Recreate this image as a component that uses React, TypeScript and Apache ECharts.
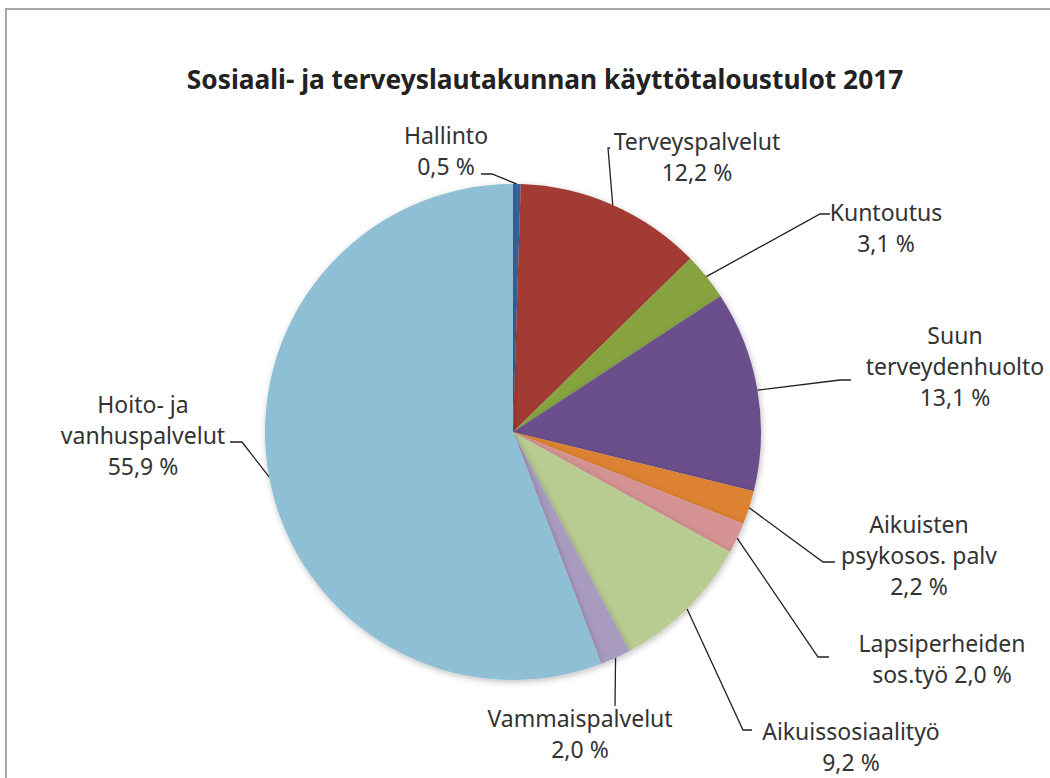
import React, { useEffect, useRef } from "react";
import * as echarts from "echarts";

const TITLE = "Sosiaali- ja terveyslautakunnan käyttötaloustulot 2017";

const categories = [
  "Hallinto",
  "Terveyspalvelut",
  "Kuntoutus",
  "Suun terveydenhuolto",
  "Aikuisten psykosos. palv",
  "Lapsiperheiden sos.työ",
  "Aikuissosiaalityö",
  "Vammaispalvelut",
  "Hoito- ja vanhuspalvelut",
];

const values = [0.5, 12.2, 3.1, 13.1, 2.2, 2.0, 9.2, 2.0, 55.9];

const labelNames = [
  "Hallinto",
  "Terveyspalvelut",
  "Kuntoutus",
  "Suun\nterveydenhuolto",
  "Aikuisten\npsykosos. palv",
  "Lapsiperheiden\nsos.työ",
  "Aikuissosiaalityö",
  "Vammaispalvelut",
  "Hoito- ja\nvanhuspalvelut",
];

const labelJoin = ["\n", "\n", "\n", "\n", "\n", " ", "\n", "\n", "\n"];

const colors = [
  "#3a6aa6",
  "#a33a35",
  "#86a33f",
  "#6a4f8c",
  "#dd8232",
  "#d49292",
  "#b8cc92",
  "#a99bc0",
  "#8ebfd4",
];

// label layout: [centerX, centerY, elbowX, elbowY, endX, endY]
const labelPlacement = [
  [446, 150, 492, 174, 481, 174],
  [697, 156, 608, 148, 610, 148],
  [886, 227, 820, 214, 830, 214],
  [955, 366, 840, 380, 851, 380],
  [919, 555, 823, 562, 835, 562],
  [942, 658, 818, 657, 829, 657],
  [851, 746, 743, 730, 752, 730],
  [580, 733, 615, 706, 615, 706],
  [143, 435, 242, 442, 230, 442],
];

const fmt = (v: number) => v.toFixed(1).replace(".", ",") + " %";

export default function App() {
  const ref = useRef<HTMLDivElement>(null);
  useEffect(() => {
    if (!ref.current) return;
    const chart = echarts.init(ref.current, null, { renderer: "svg" });
    chart.setOption({
      animation: false,
      backgroundColor: "#ffffff",
      title: {
        text: TITLE,
        left: 540,
        top: 61,
        textAlign: "center",
        textStyle: {
          fontFamily: "Noto Sans",
          fontWeight: "bold",
          fontSize: 26.3,
          color: "#222222",
        },
      },
      graphic: [
        {
          type: "rect",
          shape: { x: 6, y: 9, width: 1080, height: 800 },
          style: { fill: "none", stroke: "#a6a6a6", lineWidth: 2 },
          silent: true,
        },
      ],
      series: [
        {
          type: "pie",
          center: [513, 432],
          radius: 248,
          startAngle: 90,
          clockwise: true,
          avoidLabelOverlap: false,
          data: categories.map((c, i) => ({
            name: c,
            value: values[i],
            itemStyle: { color: colors[i] },
          })),
          itemStyle: {
            borderWidth: 0,
            shadowBlur: 6,
            shadowColor: "rgba(0,0,0,0.25)",
            shadowOffsetX: 1,
            shadowOffsetY: 2,
          },
          label: {
            show: true,
            position: "outside",
            fontFamily: "Noto Sans",
            fontSize: 23,
            lineHeight: 31,
            color: "#333333",
            align: "center",
            formatter: (p: any) =>
              labelNames[p.dataIndex] + labelJoin[p.dataIndex] + fmt(values[p.dataIndex]),
          },
          labelLine: {
            show: true,
            length: 20,
            length2: 10,
            lineStyle: { color: "#222222", width: 1.3 },
          },
          labelLayout: (params: any) => {
            const pl = labelPlacement[params.dataIndex];
            const start = params.labelLinePoints ? params.labelLinePoints[0] : [pl[2], pl[3]];
            return {
              x: pl[0],
              y: pl[1],
              align: "center",
              verticalAlign: "middle",
              labelLinePoints: [start, [pl[2], pl[3]], [pl[4], pl[5]]],
            };
          },
        },
      ],
    });
    return () => chart.dispose();
  }, []);
  return (
    <div
      ref={ref}
      style={{ position: "fixed", left: 0, top: 0, width: 1050, height: 778 }}
    />
  );
}
